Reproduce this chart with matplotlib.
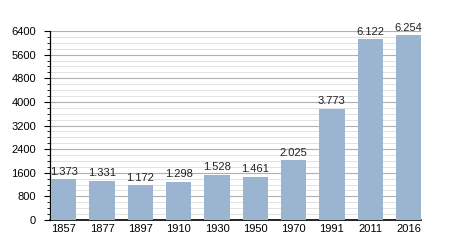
import matplotlib
matplotlib.use('Agg')
import matplotlib.pyplot as plt
from matplotlib.ticker import MultipleLocator

# Population by census year
years = ['1857', '1877', '1897', '1910', '1930', '1950', '1970', '1991', '2011', '2016']
population = [1373, 1331, 1172, 1298, 1528, 1461, 2025, 3773, 6122, 6254]
labels = ['1.373', '1.331', '1.172', '1.298', '1.528', '1.461', '2.025', '3.773', '6.122', '6.254']

plt.rcParams['font.family'] = ['Liberation Sans', 'DejaVu Sans']

fig = plt.figure(figsize=(4.5, 2.5), dpi=100)
ax = fig.add_axes([0.111, 0.12, 0.825, 0.756])

x = list(range(len(years)))
ax.bar(x, population, width=0.66, color='#9bb4d0', zorder=3)
for xi, v, lab in zip(x, population, labels):
    ax.text(xi, v + 90, lab, ha='center', va='bottom', fontsize=8, color='#222222', zorder=4)

ax.set_xlim(-0.36, 9.33)
ax.set_ylim(0, 6400)
ax.set_xticks(x)
ax.set_xticklabels(years)
ax.yaxis.set_major_locator(MultipleLocator(800))
ax.yaxis.set_minor_locator(MultipleLocator(200))

ax.grid(axis='y', which='major', color='#b0b0b0', linewidth=0.8, zorder=0)
ax.grid(axis='y', which='minor', color='#e2e2e2', linewidth=0.7, zorder=0)

for s in ['top', 'right']:
    ax.spines[s].set_visible(False)
ax.spines['left'].set_linewidth(0.9)
ax.spines['bottom'].set_linewidth(1.2)

ax.tick_params(axis='x', length=0, labelsize=8, pad=3)
ax.tick_params(axis='y', which='major', length=4, width=0.8, labelsize=8, pad=6)
ax.tick_params(axis='y', which='minor', length=2, width=0.6)

fig.savefig('out.png', dpi=100)
